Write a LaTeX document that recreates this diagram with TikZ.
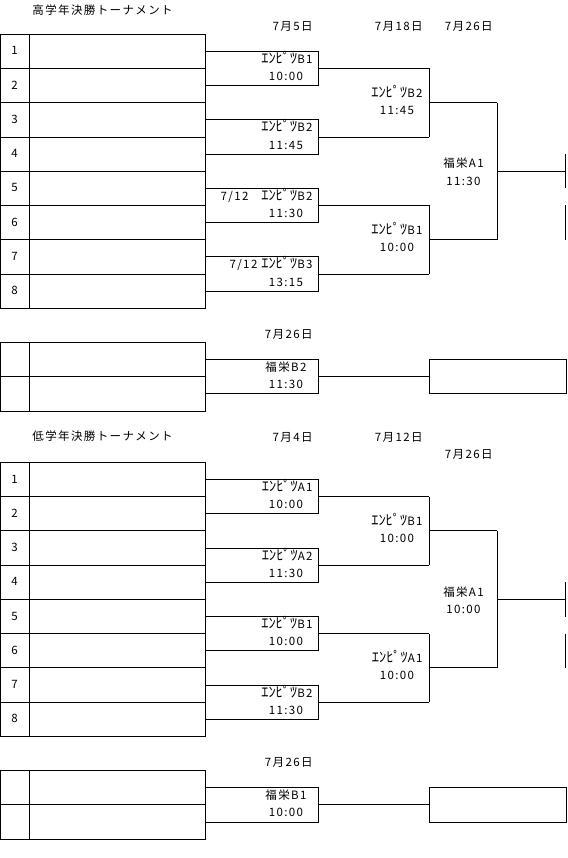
\documentclass[tikz,border=0pt]{standalone}
\usepackage{fontspec}
\setmainfont{Noto Sans CJK JP}[LetterSpace=12]
\newfontfamily\hankaku{Noto Sans CJK JP}[Scale=1.25]
\newcommand{\enpitsu}{{\hankaku ｴﾝﾋﾟﾂ}}
\tikzset{
  txt/.style={inner sep=0pt, font=\fontsize{11.5}{13}\selectfont, text height=8.5pt, text depth=1.5pt},
  tag/.style={txt, anchor=east},
  hour/.style={txt},
  title/.style={txt, anchor=west},
}

\begin{document}
\begin{tikzpicture}[x=1pt, y=-34.25pt, line width=0.8pt]
  \useasboundingbox (0pt,0pt) rectangle (567pt,-858pt);
  \foreach \s/\p in {0/h, 12.5/l}{
    \begin{scope}[shift={(0,\s)}]
      \draw (0,1) rectangle (205,9) (29,1) -- (29,9);
      \foreach \k in {2,...,8} \draw (0,\k) -- (205,\k);
      \foreach \i in {1,...,8} \node[hour] (\p\i) at (14.5,\i+0.5) {\i};
      \foreach \j in {1,...,4}{
        \draw (205,2*\j-0.5) -| (318,2*\j+0.5) -- (205,2*\j+0.5);
        \draw (318,2*\j) -- (429,2*\j);
      }
      \draw (429,2) -- (429,4) (429,6) -- (429,8);
      \draw (429,3) -- (497,3) (429,7) -- (497,7);
      \draw (497,3) -- (497,7) (497,5) -- (565,5);
      \draw (565,4.5) -- (565,5.5) (565,6) -- (565,7);
      \draw (0,10) rectangle (205,12) (0,11) -- (205,11) (29,10) -- (29,12);
      \draw (205,10.5) -| (318,11.5) -- (205,11.5);
      \draw (318,11) -- (429,11);
      \draw (429,10.5) rectangle (566,11.5);
    \end{scope}
  }

  \node[title] (htitle) at (32,0.32) {高学年決勝トーナメント};
  \node[tag] (hd1) at (313,0.79) {7月5日};
  \node[tag] (hd2) at (423,0.79) {7月18日};
  \node[tag] (hd3) at (493,0.79) {7月26日};
  \node[tag] (hm1) at (313,1.75) {\enpitsu B1};
  \node[hour] (ht1) at (286,2.25) {10:00};
  \node[tag] (hm2) at (313,3.75) {\enpitsu B2};
  \node[hour] (ht2) at (286,4.25) {11:45};
  \node[tag] (hm3) at (313,5.75) {7/12　\enpitsu B2};
  \node[hour] (ht3) at (286,6.25) {11:30};
  \node[tag] (hm4) at (313,7.75) {7/12 \enpitsu B3};
  \node[hour] (ht4) at (286,8.25) {13:15};
  \node[tag] (hs1) at (423,2.75) {\enpitsu B2};
  \node[hour] (hu1) at (397,3.25) {11:45};
  \node[tag] (hs2) at (423,6.75) {\enpitsu B1};
  \node[hour] (hu2) at (397,7.25) {10:00};
  \node[hour] (hf) at (463.5,4.8) {福栄A1};
  \node[hour] (hft) at (463.5,5.3) {11:30};
  \node[tag] (hcd) at (313,9.78) {7月26日};
  \node[hour] (hc) at (286,10.75) {福栄B2};
  \node[hour] (hct) at (286,11.25) {11:30};

  \begin{scope}[shift={(0,12.5)}]
    \node[title] (ltitle) at (32,0.26) {低学年決勝トーナメント};
    \node[tag] (ld1) at (313,0.29) {7月4日};
    \node[tag] (ld2) at (423,0.29) {7月12日};
    \node[tag] (ld3) at (493,0.78) {7月26日};
    \node[tag] (lm1) at (313,1.75) {\enpitsu A1};
    \node[hour] (lt1) at (286,2.25) {10:00};
    \node[tag] (lm2) at (313,3.75) {\enpitsu A2};
    \node[hour] (lt2) at (286,4.25) {11:30};
    \node[tag] (lm3) at (313,5.75) {\enpitsu B1};
    \node[hour] (lt3) at (286,6.25) {10:00};
    \node[tag] (lm4) at (313,7.75) {\enpitsu B2};
    \node[hour] (lt4) at (286,8.25) {11:30};
    \node[tag] (ls1) at (423,2.75) {\enpitsu B1};
    \node[hour] (lu1) at (397,3.25) {10:00};
    \node[tag] (ls2) at (423,6.75) {\enpitsu A1};
    \node[hour] (lu2) at (397,7.25) {10:00};
    \node[hour] (lf) at (463.5,4.8) {福栄A1};
    \node[hour] (lft) at (463.5,5.3) {10:00};
    \node[tag] (lcd) at (313,9.78) {7月26日};
    \node[hour] (lc) at (286,10.75) {福栄B1};
    \node[hour] (lct) at (286,11.25) {10:00};
  \end{scope}
\end{tikzpicture}
\end{document}
